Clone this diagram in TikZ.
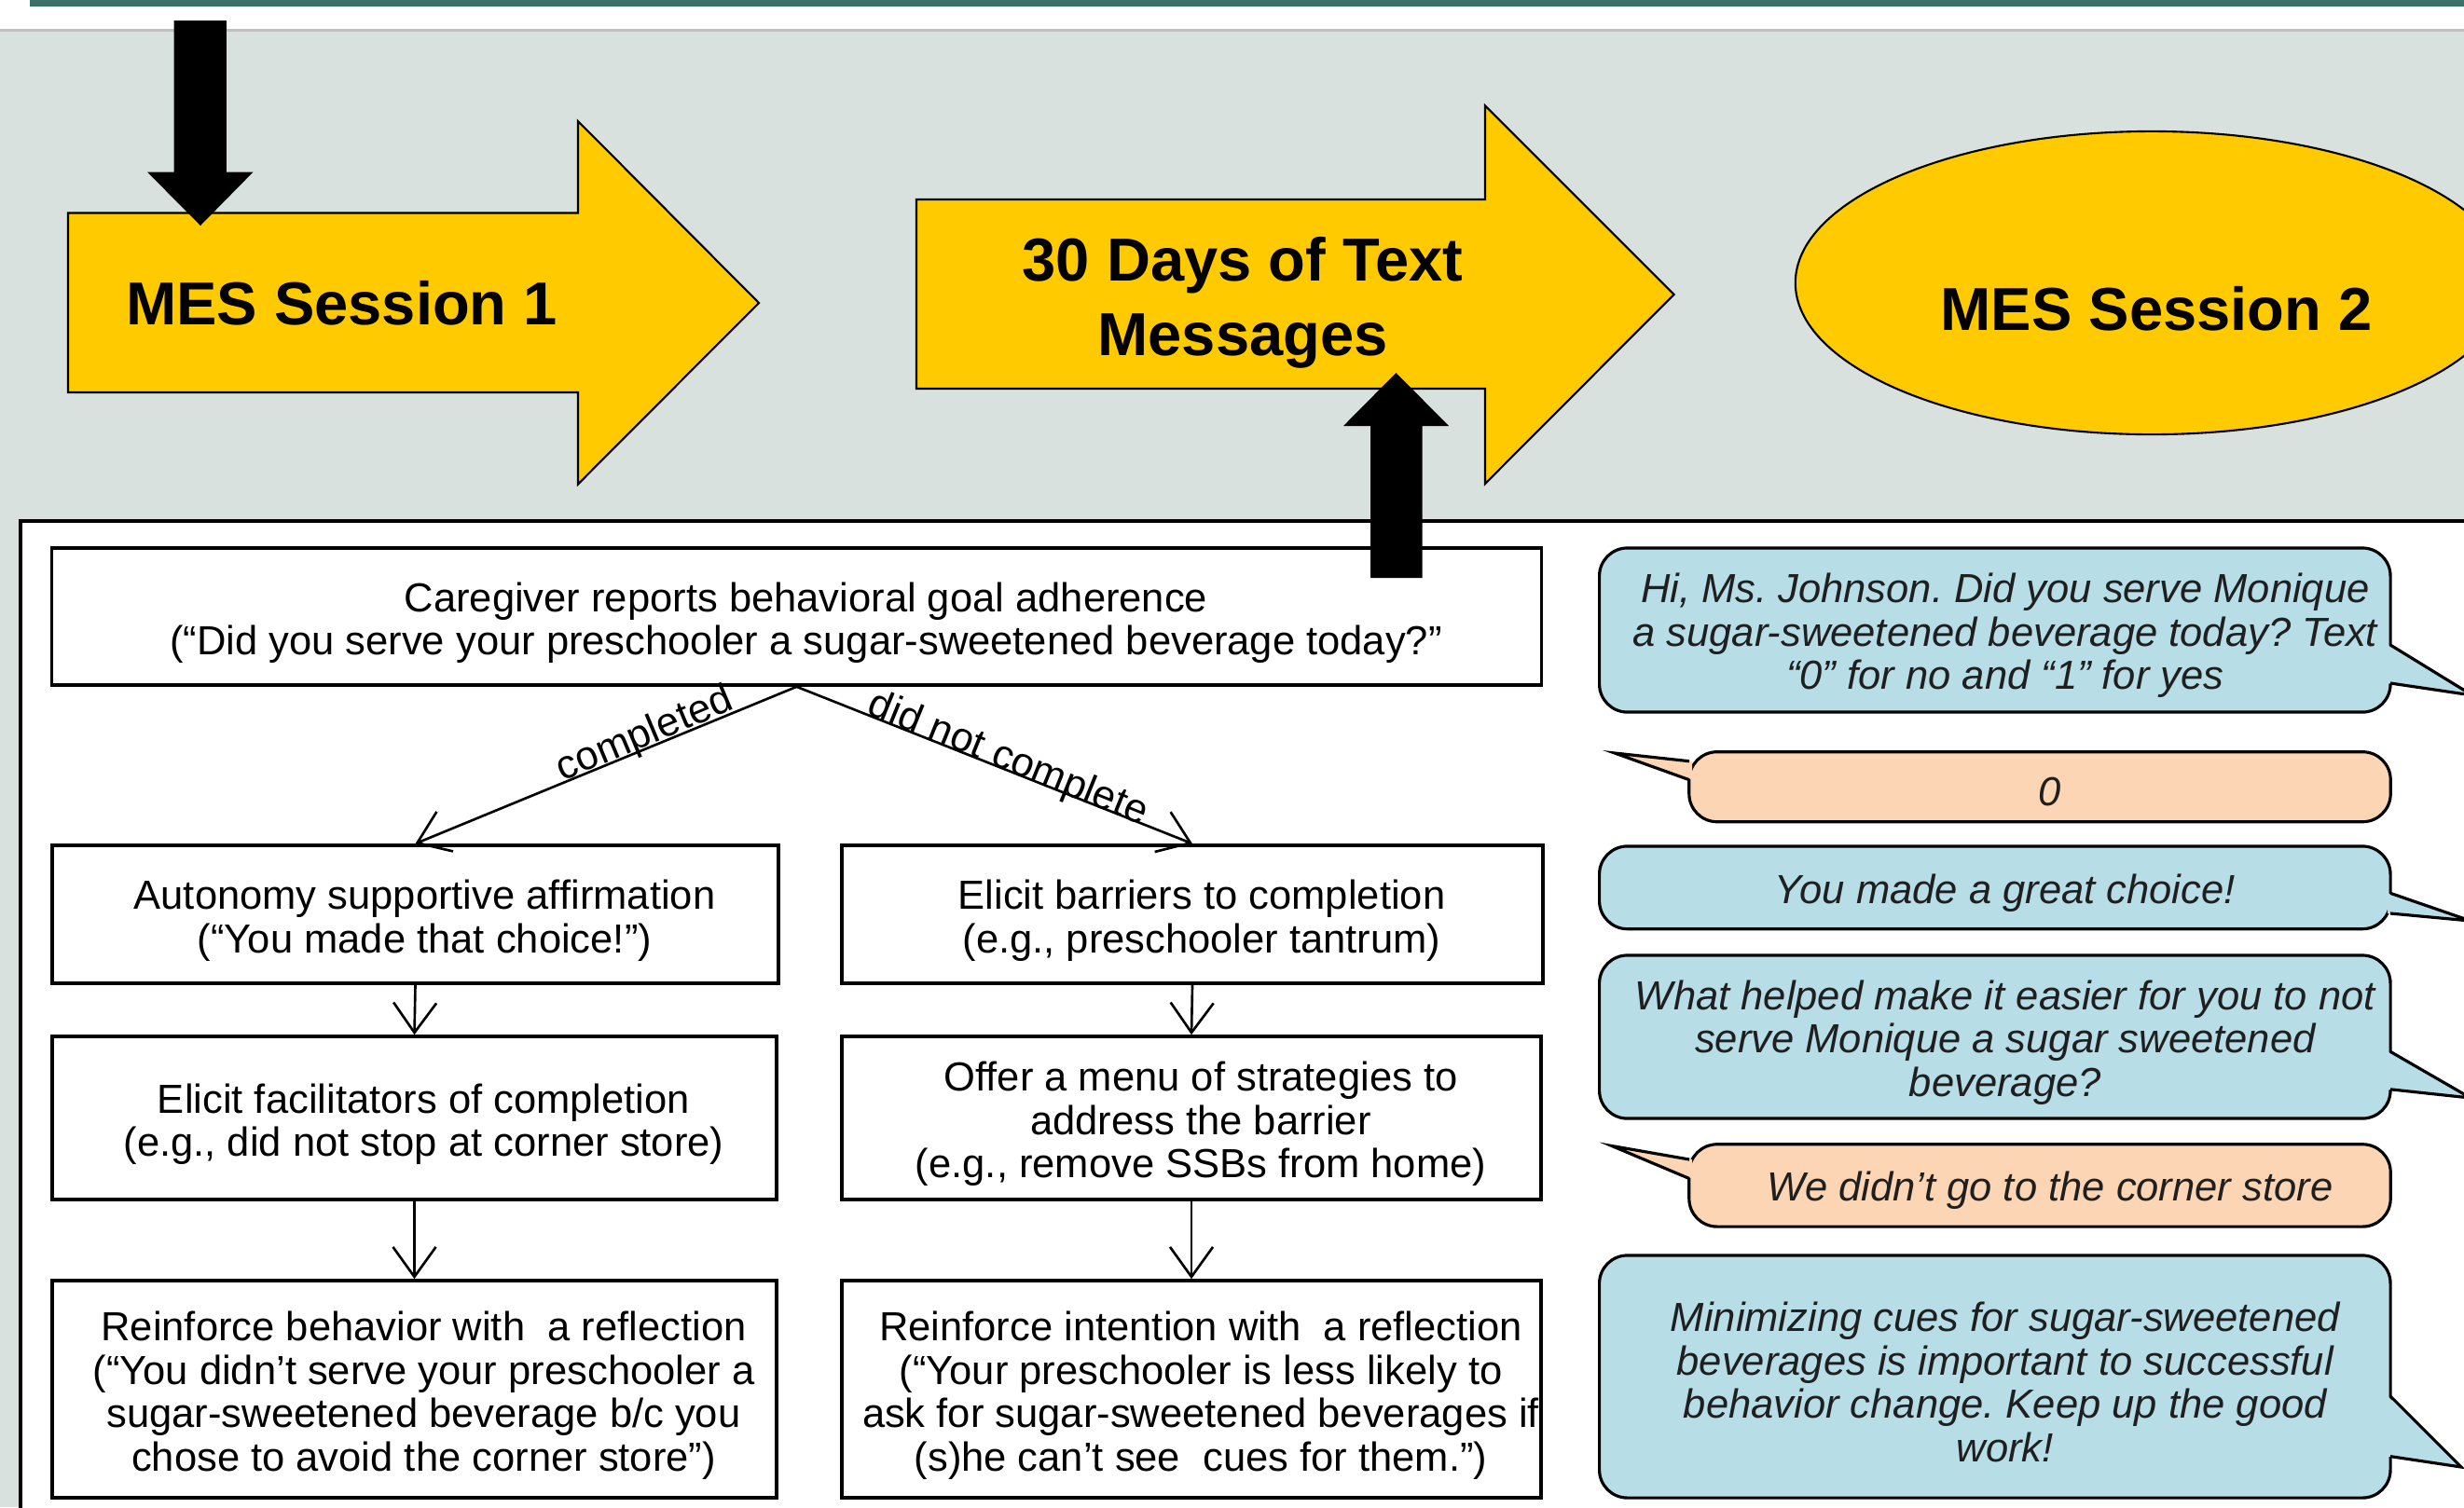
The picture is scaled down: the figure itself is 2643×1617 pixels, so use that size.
\documentclass[tikz,border=0pt]{standalone}
\usepackage{fontspec}
\setmainfont{Liberation Sans}
\usetikzlibrary{arrows.meta,shapes.geometric,calc}
\frenchspacing
\definecolor{bgpanel}{RGB}{216,225,222}
\definecolor{topbar}{RGB}{58,113,104}
\definecolor{arrowyellow}{RGB}{255,203,0}
\definecolor{bubbleblue}{RGB}{183,221,231}
\definecolor{bubblepeach}{RGB}{251,213,180}
\newcommand{\mytitlefont}{\fontsize{18.5pt}{22.8pt}\selectfont\bfseries}
\newcommand{\mybodyfont}{\fontsize{12.38pt}{13.23pt}\selectfont}
\newcommand{\mybubblefont}{\fontsize{12.38pt}{13.23pt}\selectfont\itshape}
\begin{document}
\begin{tikzpicture}[x=0.01cm,y=-0.01cm,
  blockarrow/.style={draw=black, line width=0.6pt, fill=arrowyellow, line join=miter},
  fcbox/.style={draw=black, line width=1pt, fill=white, inner sep=0pt},
  fctext/.style={inner sep=0pt, align=center, font=\mybodyfont},
  fcarrow/.style={draw=black, line width=0.75pt, -{Straight Barb[length=0.32cm,width=0.46cm]}},
  bubble/.style={draw=black, line width=0.9pt, rounded corners=0.3cm, inner sep=0pt},
  bubbletext/.style={inner sep=0pt, align=center, font=\mybubblefont, text=black!88},
  bluebubble/.style={bubble, fill=bubbleblue, minimum width=8.48cm},
  peachbubble/.style={bubble, fill=bubblepeach, minimum width=7.52cm},
  tailline/.style={draw=black, line width=0.9pt, line join=miter},
  branchlabel/.style={font=\mybodyfont, inner sep=0pt}
]
\clip (0,0) rectangle (2643,1617);
\fill[bgpanel] (0,0) rectangle (2643,1617);
\fill[white] (0,0) rectangle (2643,31);
\fill[black!25] (0,31) rectangle (2643,34);
\fill[topbar] (32,0) rectangle (2643,6.5);

% block arrow 1
\path[blockarrow] (73,228.5) -- (620,228.5) -- (620,130) -- (814,325) -- (620,519.5) -- (620,421) -- (73,421) -- cycle;
\node[font=\mytitlefont] (s1) at (366.5,325) {MES Session 1};
% block arrow 2
\path[blockarrow] (983,214) -- (1593,214) -- (1593,113.5) -- (1795.5,316) -- (1593,519) -- (1593,417) -- (983,417) -- cycle;
\node[font=\mytitlefont, align=center] (tm) at (1333,325) {30 Days of Text\\Messages};
% ellipse
\node[ellipse, blockarrow, minimum width=7.64cm, minimum height=3.25cm, inner sep=0pt] (s2shape) at (2308,303.5) {};
\node[font=\mytitlefont] (s2) at (2313,331) {MES Session 2};

% down arrow
\fill[black] (186.6,22) -- (242.8,22) -- (242.8,184.6) -- (271.5,184.6) -- (215,242) -- (158,184.6) -- (186.6,184.6) -- cycle;

% lower panel
\draw[line width=1.2pt, fill=white] (22,559) rectangle (2700,1700);

% flowchart boxes
\node[fcbox, minimum width=15.97cm, minimum height=1.47cm] (top) at (854.5,661.5) {};
\node[fcbox, minimum width=7.79cm, minimum height=1.48cm] (r2L) at (445.5,981) {};
\node[fcbox, minimum width=7.52cm, minimum height=1.48cm] (r2R) at (1279,981) {};
\node[fcbox, minimum width=7.77cm, minimum height=1.75cm] (r3L) at (444.5,1199.5) {};
\node[fcbox, minimum width=7.50cm, minimum height=1.75cm] (r3R) at (1278,1199.5) {};
\node[fcbox, minimum width=7.77cm, minimum height=2.33cm] (r4L) at (444.5,1490.5) {};
\node[fcbox, minimum width=7.50cm, minimum height=2.33cm] (r4R) at (1278,1490.5) {};

\node[fctext] (topT) at ($(top)+(10,6.5)$) {Caregiver reports behavioral goal adherence\\(“Did you serve your preschooler a sugar-sweetened beverage today?”};
\node[fctext] (r2LT) at ($(r2L)+(10,6.5)$) {Autonomy supportive affirmation\\(“You made that choice!”)};
\node[fctext] (r2RT) at ($(r2R)+(10,6.5)$) {Elicit barriers to completion\\(e.g., preschooler tantrum)};
\node[fctext] (r3LT) at ($(r3L)+(10,6.5)$) {Elicit facilitators of completion\\(e.g., did not stop at corner store)};
\node[fctext] (r3RT) at ($(r3R)+(10,6.5)$) {Offer a menu of strategies to\\address the barrier\\(e.g., remove SSBs from home)};
\node[fctext] (r4LT) at ($(r4L)+(10,6.5)$) {Reinforce behavior with\ \ a reflection\\(“You didn’t serve your preschooler a\\sugar-sweetened beverage b/c you\\chose to avoid the corner store”)};
\node[fctext] (r4RT) at ($(r4R)+(10,6.5)$) {Reinforce intention with\ \ a reflection\\(“Your preschooler is less likely to\\ask for sugar-sweetened beverages if\\(s)he can’t see\ \ cues for them.”)};

\draw[fcarrow] (top.south) -- (r2L.north);
\draw[fcarrow] (top.south) -- (r2R.north);
\draw[fcarrow] (r2L.south) -- (r3L.north);
\draw[fcarrow] (r2R.south) -- (r3R.north);
\draw[fcarrow] (r3L.south) -- (r4L.north);
\draw[fcarrow] (r3R.south) -- (r4R.north);
\node[branchlabel, rotate=22.8] (lc) at (692,789) {completed};
\node[branchlabel, rotate=-22.1] (ln) at (1081,815) {did not complete};

% up arrow
\fill[black] (1470,620) -- (1525.7,620) -- (1525.7,457) -- (1554,457) -- (1497.5,400) -- (1441,457) -- (1470,457) -- cycle;

% speech bubbles
\node[bluebubble, minimum height=1.76cm] (b1) at (2139.8,676) {};
\fill[bubbleblue] (2561,692) -- (2652,746) -- (2561,733) -- cycle;
\draw[tailline] (2564,692) -- (2652,746) -- (2564,733);
\node[bubbletext] (b1T) at ($(b1)+(11,6)$) {Hi, Ms. Johnson. Did you serve Monique\\a sugar-sweetened beverage today? Text\\“0” for no and “1” for yes};

\node[peachbubble, minimum height=0.75cm] (b2) at (2188,844.2) {};
\fill[bubblepeach] (1815,816.7) -- (1732,808) -- (1815,836.7) -- cycle;
\draw[tailline] (1812,816.7) -- (1732,808) -- (1812,836.7);
\node[bubbletext] (b2T) at ($(b2)+(11,5)$) {0};

\node[bluebubble, minimum height=0.887cm] (b3) at (2139.8,952.3) {};
\fill[bubbleblue] (2561,958.3) -- (2650,988) -- (2561,980) -- cycle;
\draw[tailline] (2564,958.3) -- (2650,988) -- (2564,980);
\node[bubbletext] (b3T) at ($(b3)+(11,6)$) {You made a great choice!};

\node[bluebubble, minimum height=1.75cm] (b4) at (2139.8,1112.5) {};
\fill[bubbleblue] (2561,1128.3) -- (2650,1178) -- (2561,1168.8) -- cycle;
\draw[tailline] (2564,1128.3) -- (2650,1178) -- (2564,1168.8);
\node[bubbletext] (b4T) at ($(b4)+(11,6)$) {What helped make it easier for you to not\\serve Monique a sugar sweetened\\beverage?};

\node[peachbubble, minimum height=0.883cm] (b5) at (2188,1271.9) {};
\fill[bubblepeach] (1815,1244) -- (1729,1229.5) -- (1815,1264.5) -- cycle;
\draw[tailline] (1812,1244) -- (1729,1229.5) -- (1812,1264.5);
\node[bubbletext] (b5T) at ($(b5)+(11,5)$) {We didn’t go to the corner store};

\node[bluebubble, minimum height=2.6cm] (b6) at (2139.8,1477) {};
\fill[bubbleblue] (2561,1498) -- (2640,1574) -- (2561,1562.6) -- cycle;
\draw[tailline] (2564,1498) -- (2640,1574) -- (2564,1562.6);
\node[bubbletext] (b6T) at ($(b6)+(11,6)$) {Minimizing cues for sugar-sweetened\\beverages is important to successful\\behavior change. Keep up the good\\work!};
\end{tikzpicture}
\end{document}
